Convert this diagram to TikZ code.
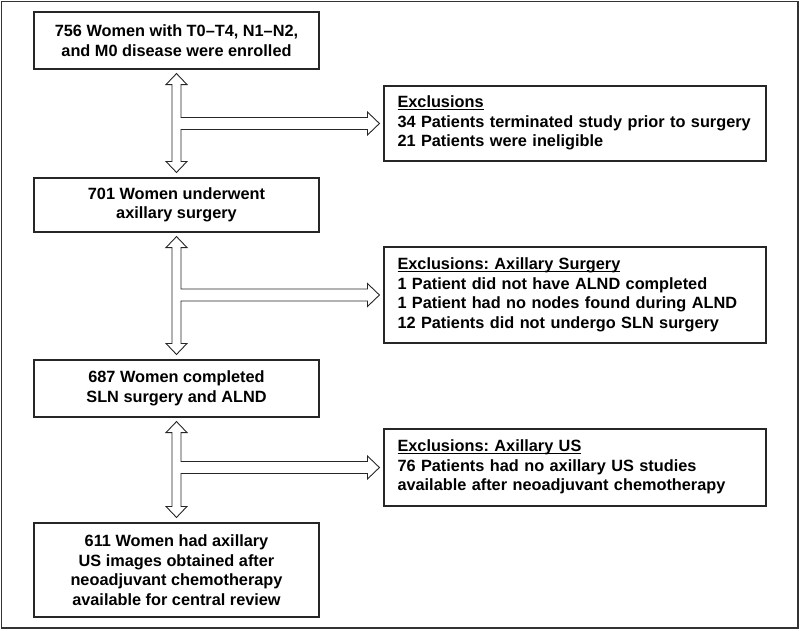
\documentclass[tikz,border=0pt]{standalone}
\usepackage{fontspec}
\setmainfont{Liberation Sans}
\usetikzlibrary{calc}
\frenchspacing
\newcommand\ulhead[1]{\underline{\smash{#1}}\vphantom{E}}

\begin{document}
\begin{tikzpicture}[x=1pt, y=-1pt, line join=miter,
    font=\fontsize{16.3}{19.5}\selectfont\bfseries,
    stage/.style={draw=black!85, line width=1.1pt, align=center, minimum width=285pt, inner sep=0pt},
    excl/.style={draw=black!85, line width=1.1pt, align=left, text width=355pt, inner xsep=13.5pt, inner ysep=0pt, minimum width=382pt},
    arrowbody/.style={draw=black!85, line width=0.9pt, fill=white}]
  \useasboundingbox (0,0) rectangle (800,630);
  \draw[black!80, line width=1.4pt] (1.5,1.5) rectangle (798,628);

  \node[stage, minimum height=57pt] (enrol) at (176.5,40.5) {756 Women with T0--T4, N1--N2,\\and M0 disease were enrolled};
  \node[stage, minimum height=54pt] (surg) at (176.5,205) {701 Women underwent\\axillary surgery};
  \node[stage, minimum height=57pt] (sln) at (176.5,388.5) {687 Women completed\\SLN surgery and ALND};
  \node[stage, minimum height=94pt] (review) at (176.5,570) {611 Women had axillary\\US images obtained after\\neoadjuvant chemotherapy\\available for central review};

  \node[excl, minimum height=75pt] (exclA) at (575,123.5) {\ulhead{Exclusions}\\34 Patients terminated study prior to surgery\\21 Patients were ineligible};
  \node[excl, minimum height=96pt] (exclB) at (575,295) {\ulhead{Exclusions: Axillary Surgery}\\1 Patient did not have ALND completed\\1 Patient had no nodes found during ALND\\12 Patients did not undergo SLN surgery};
  \node[excl, minimum height=77pt] (exclC) at (575,467.5) {\ulhead{Exclusions: Axillary US}\\76 Patients had no axillary US studies\\available after neoadjuvant chemotherapy};

  \foreach \a/\b/\c in {enrol/surg/exclA, surg/sln/exclB, sln/review/exclC}
    \draw[arrowbody] let \p1=([yshift=-4pt]\a.south), \p2=([yshift=5pt]\b.north), \p3=([xshift=-4pt]\c.west) in
      (\x1,\y1) -- (\x1+10.5pt,\y1-11pt) -- (\x1+4.5pt,\y1-11pt) -- (\x1+4.5pt,\y3+6pt)
      -- (\x3-12pt,\y3+6pt) -- (\x3-12pt,\y3+11.5pt) -- (\x3,\y3) -- (\x3-12pt,\y3-11.5pt)
      -- (\x3-12pt,\y3-6pt) -- (\x1+4.5pt,\y3-6pt) -- (\x1+4.5pt,\y2+11pt) -- (\x1+10.5pt,\y2+11pt)
      -- (\x1,\y2) -- (\x1-10.5pt,\y2+11pt) -- (\x1-4.5pt,\y2+11pt) -- (\x1-4.5pt,\y1-11pt)
      -- (\x1-10.5pt,\y1-11pt) -- cycle;
\end{tikzpicture}
\end{document}
